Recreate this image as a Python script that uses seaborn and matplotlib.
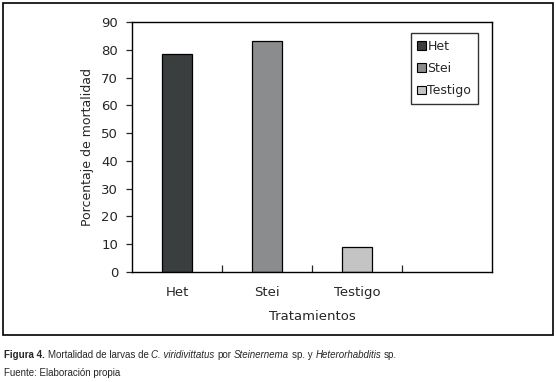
import matplotlib
matplotlib.use("Agg")
import matplotlib.pyplot as plt
import seaborn as sns
import pandas as pd
from matplotlib.patches import Rectangle, Patch
from matplotlib import font_manager

categories = ["Het", "Stei", "Testigo"]
values = [78.5, 83, 9]
colors = ["#3b3e3e", "#8a8c8e", "#c3c4c3"]
yticks = [0, 10, 20, 30, 40, 50, 60, 70, 80, 90]

sns.set_style("white")
plt.rcParams['font.family'] = ['DejaVu Sans']

names = {f.name for f in font_manager.fontManager.ttflist}
cap_font = 'Liberation Sans Narrow' if 'Liberation Sans Narrow' in names else 'Liberation Sans'

df = pd.DataFrame({"Tratamiento": categories, "Valor": values})

fig = plt.figure(figsize=(5.56, 3.82), dpi=100)
fig.patches.append(Rectangle((3/556, 1 - 335/382), 550/556, 332/382,
                             transform=fig.transFigure, fill=False,
                             edgecolor="black", linewidth=1.2))

ax = fig.add_axes([132/556, 1 - 272/382, 360/556, 250/382])
sns.barplot(data=df, x="Tratamiento", y="Valor", hue="Tratamiento",
            order=categories, hue_order=categories, palette=colors,
            dodge=False, width=0.33, edgecolor="black", linewidth=0.9,
            legend=False, ax=ax)

ax.set_xlim(-0.5, 3.5)
ax.set_ylim(0, 90)
ax.set_yticks(yticks)
ax.set_yticklabels([str(v) for v in yticks], fontsize=9.5)
ax.set_xticks([0, 1, 2])
ax.set_xticklabels(categories, fontsize=9.5)
ax.set_xticks([0.5, 1.5, 2.5], minor=True)
ax.tick_params(axis="x", which="major", length=0, pad=10)
ax.tick_params(axis="x", which="minor", direction="in", length=5, width=0.9, bottom=True)
ax.tick_params(axis="y", which="major", direction="out", length=4, width=0.9, left=True, pad=6)
for s in ax.spines.values():
    s.set_visible(True)
    s.set_color("black")
    s.set_linewidth(1.0)

ax.set_xlabel("Tratamientos", fontsize=9.5, labelpad=8)
ax.set_ylabel("Porcentaje de mortalidad", fontsize=9, labelpad=5)

handles = [Patch(facecolor=c, edgecolor="black", linewidth=0.8, label=l)
           for c, l in zip(colors, categories)]
leg = ax.legend(handles=handles, loc="upper right", bbox_to_anchor=(0.96, 0.955),
                frameon=True, fancybox=False, edgecolor="black", fontsize=9,
                handlelength=0.7, handleheight=0.7, handletextpad=0.15,
                labelspacing=0.75, borderpad=0.5, borderaxespad=0)
leg.get_frame().set_linewidth(1.0)

# Caption, built from segments laid out side by side
caption_parts = [
    ("Figura 4.", "bold", "normal"),
    ("Mortalidad de larvas de", "normal", "normal"),
    ("C. viridivittatus", "normal", "italic"),
    ("por", "normal", "normal"),
    ("Steinernema", "normal", "italic"),
    ("sp. y", "normal", "normal"),
    ("Heterorhabditis", "normal", "italic"),
    ("sp.", "normal", "normal"),
]
fig.canvas.draw()
renderer = fig.canvas.get_renderer()
x_px = 4.0
y1 = 1 - 355/382
space_px = 2.8
for txt, weight, style in caption_parts:
    t = fig.text(x_px/556, y1, txt, fontsize=7, va="center", family=cap_font,
                 fontweight=weight, fontstyle=style)
    bb = t.get_window_extent(renderer=renderer)
    x_px += bb.width + space_px
fig.text(4/556, 1 - 373/382, "Fuente: Elaboración propia", fontsize=7,
         va="center", family=cap_font)

fig.savefig("out.png", dpi=100)
